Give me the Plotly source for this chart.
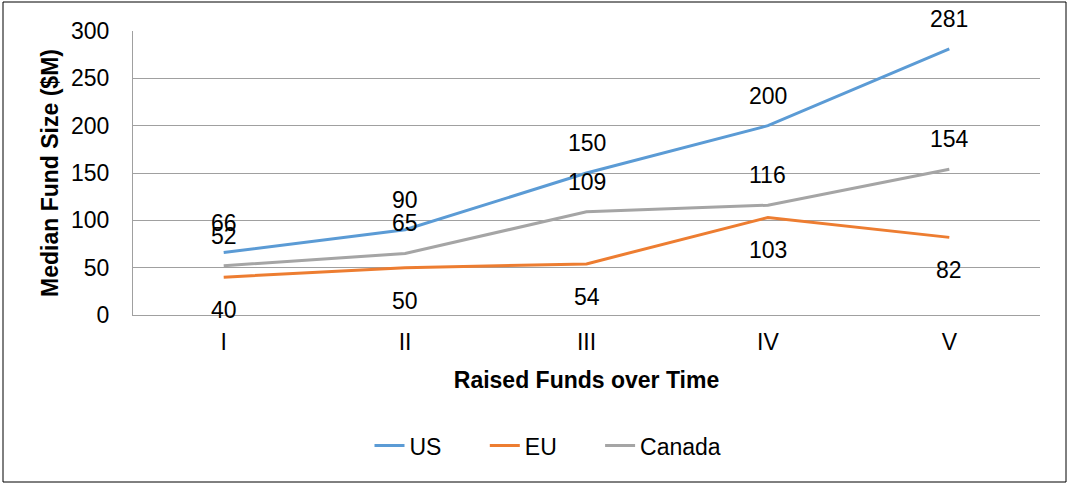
import plotly.graph_objects as go

categories = ["I", "II", "III", "IV", "V"]
us = [66, 90, 150, 200, 281]
eu = [40, 50, 54, 103, 82]
canada = [52, 65, 109, 116, 154]

series = [
    ("US", us, "#5B9BD5", 30),
    ("EU", eu, "#ED7D31", -33),
    ("Canada", canada, "#A5A5A5", 30),
]

font_family = "Liberation Sans, Arial, sans-serif"

fig = go.Figure()
annotations = []
for i, (name, vals, color, shift) in enumerate(series):
    pad = "\u00a0" * 6 if i < len(series) - 1 else ""
    fig.add_trace(go.Scatter(x=categories, y=vals, mode="lines", name=name + pad,
                             line=dict(color=color, width=3)))
    for c, v in zip(categories, vals):
        annotations.append(dict(x=c, y=v, text=str(v), showarrow=False,
                                yshift=shift, font=dict(size=23, color="#000000",
                                                        family=font_family)))

L, R, T, B = 133, 29, 31, 170
W, H = 1069, 485
pw, ph = W - L - R, H - T - B

fig.update_layout(
    width=W, height=H,
    margin=dict(l=L, r=R, t=T, b=B, autoexpand=False),
    paper_bgcolor="white", plot_bgcolor="white",
    font=dict(family=font_family, size=23, color="#000000"),
    showlegend=True,
    legend=dict(orientation="h", x=(548 - L) / pw, xanchor="center",
                y=-0.46, yanchor="middle",
                font=dict(size=23), traceorder="normal"),
    annotations=annotations,
    xaxis=dict(type="category", range=[-0.5, 4.5], showgrid=False,
               showline=True, linecolor="#A0A0A0", linewidth=1,
               ticks="", ticklabelstandoff=6, tickfont=dict(size=23),
               title=dict(text="<b>Raised Funds over Time</b>", font=dict(size=23), standoff=18)),
    yaxis=dict(range=[0, 300], dtick=50, showgrid=True, gridcolor="#A0A0A0", gridwidth=1,
               showline=True, linecolor="#A0A0A0", linewidth=1, zeroline=False,
               ticks="", ticklabelstandoff=18, tickfont=dict(size=23),
               title=dict(text="<b>Median Fund Size ($M)</b>", font=dict(size=23), standoff=5)),
    shapes=[dict(type="rect", xref="paper", yref="paper",
                 x0=(3 - L) / pw, x1=(1066 - L) / pw,
                 y0=(H - B - 482) / ph, y1=(H - B - 2) / ph,
                 line=dict(color="#000000", width=1), fillcolor="rgba(0,0,0,0)", layer="below")],
)

fig.write_html("out.html", config={"displayModeBar": False},
               post_script="document.body.style.margin='0px';document.body.style.overflow='hidden';")
